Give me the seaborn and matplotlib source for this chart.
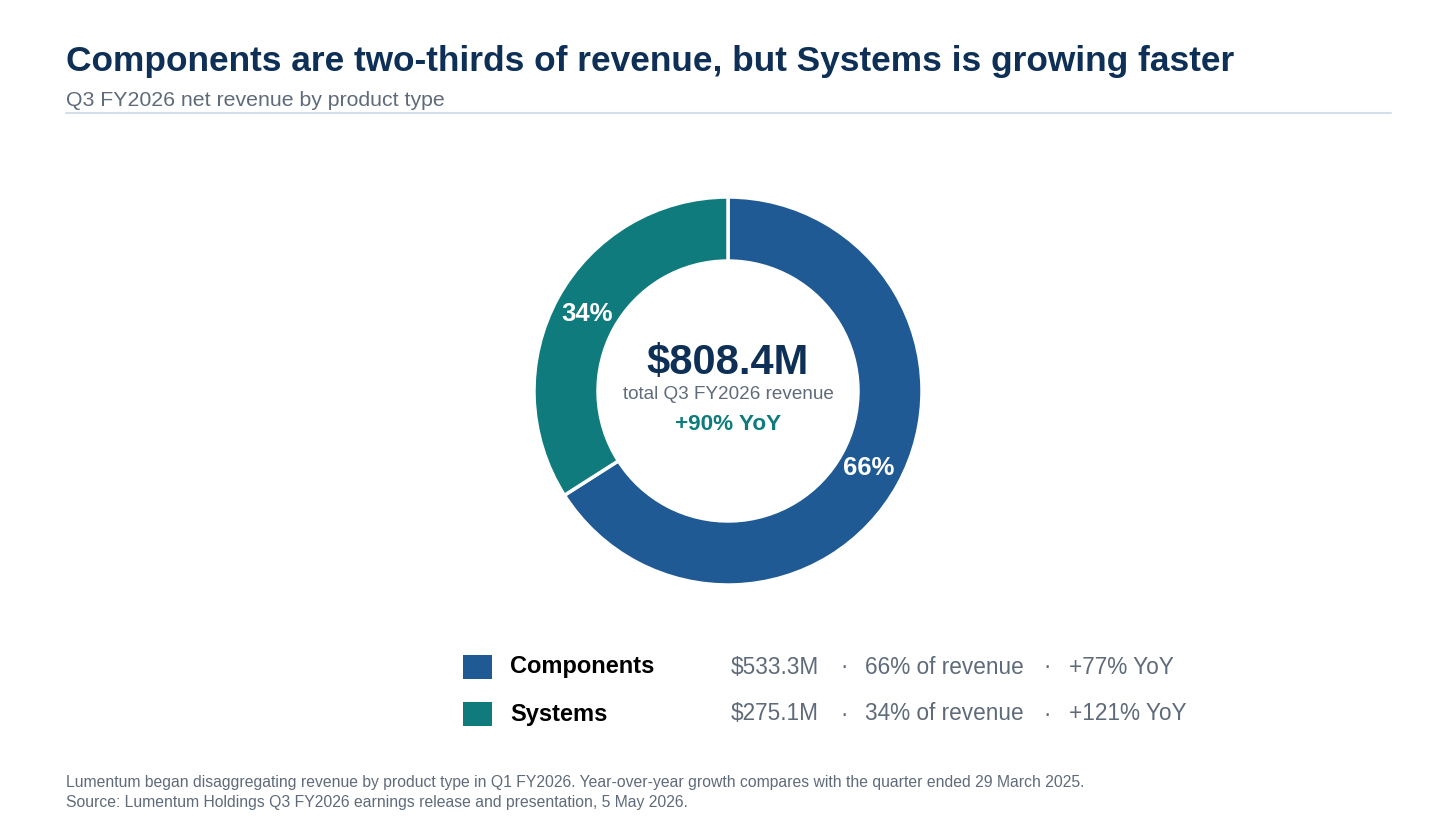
import numpy as np
import seaborn as sns
import matplotlib.pyplot as plt
from matplotlib.patches import Rectangle

# Data
segments = ["Components", "Systems"]
revenue_m = [533.3, 275.1]
share_pct = [66, 34]
yoy_pct = [77, 121]
total_m = 808.4
total_yoy = 90

colors = ["#1f5a94", "#0f7b7c"]
navy = "#0e2f56"
gray = "#5f6b7a"

sns.set_theme(style="white")
plt.rcParams["font.family"] = ["Liberation Sans", "DejaVu Sans"]

W, H = 1456, 819
fig = plt.figure(figsize=(W / 100, H / 100), dpi=100)
fig.patch.set_facecolor("white")


def fx(px):
    return px / W


def fy(py):
    return 1 - py / H


# Header
fig.text(fx(66), fy(61), "Components are two-thirds of revenue, but Systems is growing faster",
         fontsize=25.4, fontweight="bold", color=navy, va="center", ha="left")
fig.text(fx(66), fy(100), "Q3 FY2026 net revenue by product type",
         fontsize=15.3, color=gray, va="center", ha="left")
fig.add_artist(plt.Line2D([fx(66), fx(1391)], [fy(113), fy(113)], color="#d3dfea", lw=1.5))

# Donut
cx, cy, r = 728, 391, 194
ax = fig.add_axes([fx(cx - r), fy(cy + r), 2 * r / W, 2 * r / H])
wedges, _, autotexts = ax.pie(
    revenue_m, colors=colors, startangle=90, counterclock=False,
    radius=1, autopct=lambda p: f"{p:.0f}%", pctdistance=0.83,
    wedgeprops=dict(width=0.33, edgecolor="white", linewidth=2.5),
    textprops=dict(color="white", fontsize=18.5, fontweight="bold"),
)
ax.set_xlim(-1, 1)
ax.set_ylim(-1, 1)
ax.set_axis_off()

ax.text(0, 0.145, f"${total_m:.1f}M", ha="center", va="center",
        fontsize=30, fontweight="bold", color=navy)
ax.text(0, -0.02, "total Q3 FY2026 revenue", ha="center", va="center",
        fontsize=13.6, color=gray)
ax.text(0, -0.175, f"+{total_yoy}% YoY", ha="center", va="center",
        fontsize=16.2, fontweight="bold", color=colors[1])

# Legend rows
row_y = [667, 714]
for i, name in enumerate(segments):
    y = row_y[i]
    fig.add_artist(Rectangle((fx(463), fy(y + 12)), 29 / W, 24 / H,
                             facecolor=colors[i], edgecolor="none",
                             transform=fig.transFigure))
    fig.text(fx(510), fy(y), name, fontsize=17, fontweight="bold",
             color="black", va="center", ha="left")
    fig.text(fx(731), fy(y), f"${revenue_m[i]:.1f}M", fontsize=16.3,
             color=gray, va="center", ha="left")
    fig.text(fx(840), fy(y), "·", fontsize=16.3, color=gray, va="center", ha="left")
    fig.text(fx(865), fy(y), f"{share_pct[i]}% of revenue", fontsize=16.3,
             color=gray, va="center", ha="left")
    fig.text(fx(1043), fy(y), "·", fontsize=16.3, color=gray, va="center", ha="left")
    fig.text(fx(1069), fy(y), f"+{yoy_pct[i]}% YoY", fontsize=16.3,
             color=gray, va="center", ha="left")

# Footer
fig.text(fx(66), fy(782),
         "Lumentum began disaggregating revenue by product type in Q1 FY2026. "
         "Year-over-year growth compares with the quarter ended 29 March 2025.",
         fontsize=11.35, color=gray, va="center", ha="left")
fig.text(fx(66), fy(802),
         "Source: Lumentum Holdings Q3 FY2026 earnings release and presentation, 5 May 2026.",
         fontsize=11.35, color=gray, va="center", ha="left")

fig.savefig("out.png", dpi=100, facecolor="white")
